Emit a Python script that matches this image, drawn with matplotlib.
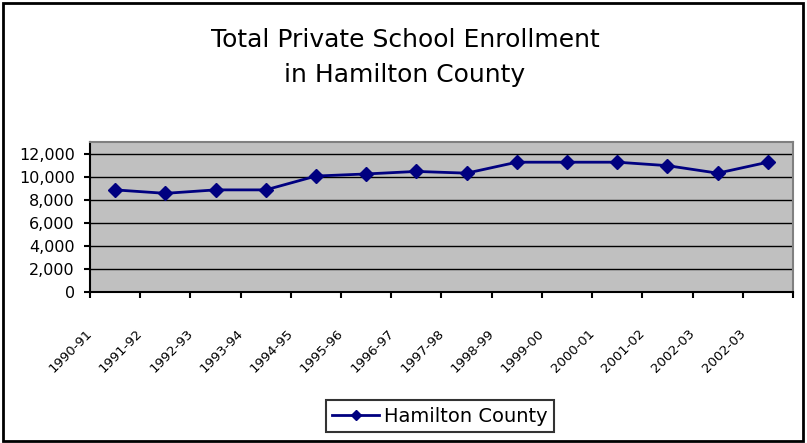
import matplotlib
matplotlib.use("Agg")
import matplotlib.pyplot as plt
import matplotlib.patches as mpatches
import matplotlib.transforms as mtransforms
import numpy as np

# data
years = ["1990-91", "1991-92", "1992-93", "1993-94", "1994-95", "1995-96",
         "1996-97", "1997-98", "1998-99", "1999-00", "2000-01", "2001-02",
         "2002-03", "2002-03"]
enrollment = [8850, 8550, 8850, 8850, 10050, 10230, 10450, 10300,
              11250, 11250, 11250, 10950, 10300, 11250]
yticks = [0, 2000, 4000, 6000, 8000, 10000, 12000]

NAVY = "#000080"
PLOT_BG = "#C0C0C0"

fig = plt.figure(figsize=(8.07, 4.43), dpi=100)
ax = fig.add_axes([90 / 807, 1 - 292 / 443, (793 - 90) / 807, (292 - 142) / 443])

x = np.arange(len(years)) + 0.5
ax.plot(x, enrollment, color=NAVY, lw=2, marker="D", markersize=7,
        markerfacecolor=NAVY, markeredgecolor=NAVY, label="Hamilton County", zorder=3)

ax.set_facecolor(PLOT_BG)
ax.set_xlim(0, len(years))
ax.set_ylim(0, 13000)
ax.set_yticks(yticks)
ax.set_yticklabels([f"{v:,}" for v in yticks], fontsize=11.5)
for v in yticks[1:]:
    ax.axhline(v, color="black", lw=1, zorder=1)

# category boundary ticks, labels at category centres
ax.set_xticks(np.arange(len(years) + 1))
ax.set_xticklabels([])
ax.set_xticks(x, minor=True)
ax.set_xticklabels(years, minor=True, rotation=45, ha="right", fontsize=9.5)
ax.tick_params(axis="x", which="minor", length=0, pad=25)
ax.tick_params(axis="x", which="major", length=4, width=1.5, direction="out")
ax.tick_params(axis="y", length=4, width=1.5, direction="out", pad=7)
shift = mtransforms.ScaledTranslation(-20 / 100, 0, fig.dpi_scale_trans)
for lab in ax.get_xticklabels(minor=True):
    lab.set_transform(lab.get_transform() + shift)

ax.spines["left"].set_color("black")
ax.spines["bottom"].set_color("black")
ax.spines["left"].set_linewidth(1.5)
ax.spines["bottom"].set_linewidth(1.5)
ax.spines["top"].set_color("#808080")
ax.spines["right"].set_color("#808080")
ax.spines["top"].set_linewidth(1.5)
ax.spines["right"].set_linewidth(1.5)

fig.text(405 / 807, 1 - 40 / 443, "Total Private School Enrollment",
         ha="center", va="center", fontsize=18)
fig.text(405 / 807, 1 - 75 / 443, "in Hamilton County",
         ha="center", va="center", fontsize=18)

leg = fig.legend(loc="center", bbox_to_anchor=(440 / 807, 1 - 416 / 443),
                 fontsize=14, frameon=True, fancybox=False, handlelength=2.4,
                 handletextpad=0.25, borderpad=0.35, markerscale=0.75)
leg.get_frame().set_edgecolor("black")
leg.get_frame().set_linewidth(1.5)

# outer chart border
fig.patches.append(mpatches.Rectangle((3 / 807, 2 / 443), 800 / 807, 438 / 443,
                                      transform=fig.transFigure, fill=False,
                                      edgecolor="black", lw=2))

fig.savefig("out.png", dpi=100)
